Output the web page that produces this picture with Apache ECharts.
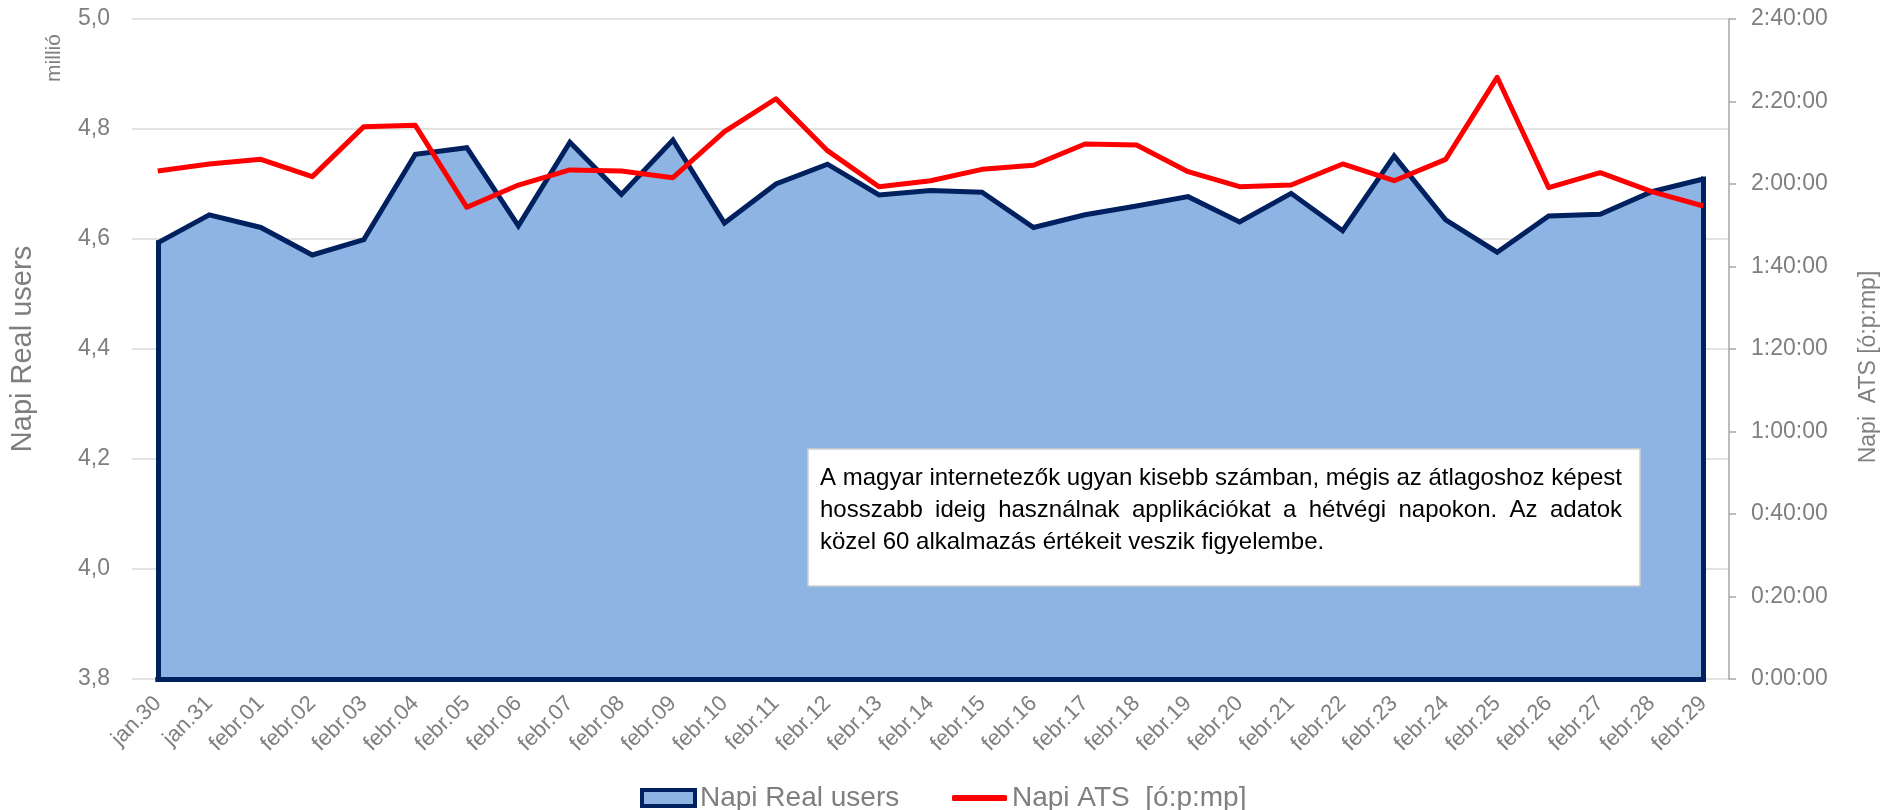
<!DOCTYPE html>
<html>
<head>
<meta charset="utf-8">
<script src="https://cdn.jsdelivr.net/npm/echarts@6/dist/echarts.min.js"></script>
<style>
html,body{margin:0;padding:0;background:#fff;}
#chart{width:1891px;height:810px;}
</style>
</head>
<body>
<div id="chart"></div>
<script>
// ---- data ----
const categories = ['jan.30','jan.31','febr.01','febr.02','febr.03','febr.04','febr.05','febr.06','febr.07','febr.08','febr.09','febr.10','febr.11','febr.12','febr.13','febr.14','febr.15','febr.16','febr.17','febr.18','febr.19','febr.20','febr.21','febr.22','febr.23','febr.24','febr.25','febr.26','febr.27','febr.28','febr.29'];
// Napi Real users (millió)
const realUsers = [4.593,4.644,4.621,4.571,4.599,4.754,4.766,4.624,4.776,4.681,4.780,4.629,4.700,4.736,4.680,4.688,4.685,4.621,4.644,4.660,4.677,4.631,4.683,4.615,4.751,4.635,4.576,4.642,4.645,4.686,4.709];
// Napi ATS (seconds)
const atsSeconds = [7389,7491,7559,7307,8034,8053,6861,7185,7404,7389,7292,7961,8440,7685,7161,7248,7413,7472,7782,7767,7379,7161,7185,7491,7248,7559,8752,7146,7365,7088,6880];
const seriesNames = ['Napi Real users', 'Napi ATS  [ó:p:mp]'];
const leftAxisName = 'Napi Real users';
const rightAxisName = 'Napi  ATS [ó:p:mp]';
const unitLabel = 'millió';
const noteLines = [
  'A magyar internetezők ugyan kisebb számban, mégis az átlagoshoz képest',
  'hosszabb ideig használnak applikációkat a hétvégi napokon. Az adatok',
  'közel 60 alkalmazás értékeit veszik figyelembe.'
];

const FONT = '"Liberation Sans", Arial, sans-serif';
const GRAY = '#7f7f7f';

function fmtTime(s) {
  const h = Math.floor(s / 3600);
  const m = Math.floor((s % 3600) / 60);
  const sec = Math.round(s % 60);
  return h + ':' + String(m).padStart(2, '0') + ':' + String(sec).padStart(2, '0');
}

// justified note text, built as graphic text elements
const box = {x: 808, y: 449, w: 832, h: 137, padL: 12, padR: 18, lineY: [478, 510, 542], fontSize: 24};
const ctx = document.createElement('canvas').getContext('2d');
ctx.font = box.fontSize + 'px ' + FONT;
const noteEls = [];
const innerW = box.w - box.padL - box.padR;
noteLines.forEach((line, li) => {
  const y = box.lineY[li];
  const x0 = box.x + box.padL;
  if (li === noteLines.length - 1) {
    noteEls.push({type: 'text', x: x0, y: y, z: 101,
      style: {text: line, font: box.fontSize + 'px ' + FONT, fill: '#000', textVerticalAlign: 'middle', textAlign: 'left'}});
    return;
  }
  const words = line.split(' ');
  const widths = words.map(w => ctx.measureText(w).width);
  const total = widths.reduce((a, b) => a + b, 0);
  const gap = (innerW - total) / (words.length - 1);
  let x = x0;
  words.forEach((w, i) => {
    noteEls.push({type: 'text', x: x, y: y, z: 101,
      style: {text: w, font: box.fontSize + 'px ' + FONT, fill: '#000', textVerticalAlign: 'middle', textAlign: 'left'}});
    x += widths[i] + gap;
  });
});

const chart = echarts.init(document.getElementById('chart'), null, {renderer: 'canvas'});
const last = categories.length - 1;
const option = {
  animation: false,
  backgroundColor: '#fff',
  textStyle: {fontFamily: FONT},
  grid: {left: 132, right: 162, top: 19, bottom: 131, containLabel: false},
  xAxis: {
    type: 'category',
    data: categories,
    boundaryGap: true,
    axisLine: {show: false},
    axisTick: {show: false},
    axisLabel: {interval: 0, rotate: 45, color: GRAY, fontSize: 22, fontFamily: FONT, margin: 21}
  },
  yAxis: [
    {
      type: 'value', min: 3.8, max: 5.0, interval: 0.2,
      name: leftAxisName, nameLocation: 'middle', nameRotate: 90, nameGap: 95,
      nameTextStyle: {color: GRAY, fontSize: 29, fontFamily: FONT},
      axisLine: {show: false}, axisTick: {show: false},
      axisLabel: {color: GRAY, fontSize: 23, fontFamily: FONT, margin: 22,
        formatter: v => v.toFixed(1).replace('.', ',')},
      splitLine: {show: true, lineStyle: {color: '#d9d9d9', width: 1.5}}
    },
    {
      type: 'value', min: 0, max: 9600, interval: 1200, position: 'right',
      axisLine: {show: true, lineStyle: {color: '#a6a6a6', width: 1.5}},
      axisTick: {show: true, length: 7, inside: false, lineStyle: {color: '#a6a6a6', width: 1.5}},
      axisLabel: {color: GRAY, fontSize: 23, fontFamily: FONT, margin: 22, formatter: v => fmtTime(v)},
      splitLine: {show: false}
    }
  ],
  legend: [
    {
      data: [{name: seriesNames[0], icon: 'rect', itemStyle: {color: '#8eb4e3', borderColor: '#002060', borderWidth: 4}}],
      left: 635, top: 778, itemWidth: 53, itemHeight: 16,
      textStyle: {color: GRAY, fontSize: 28, fontFamily: FONT, lineHeight: 30},
      selectedMode: false
    },
    {
      data: [{name: seriesNames[1], icon: 'roundRect', itemStyle: {color: '#ff0000'}}],
      left: 947, top: 778, itemWidth: 55, itemHeight: 6,
      textStyle: {color: GRAY, fontSize: 28, fontFamily: FONT, lineHeight: 30},
      selectedMode: false
    }
  ],
  series: [
    {
      name: seriesNames[0], type: 'line', yAxisIndex: 0, data: realUsers,
      symbol: 'none', z: 2,
      lineStyle: {color: '#002060', width: 5, join: 'miter'},
      itemStyle: {color: '#002060'},
      areaStyle: {color: '#8eb4e3', opacity: 1, origin: 'start'},
      markLine: {
        silent: true, symbol: 'none', label: {show: false},
        lineStyle: {color: '#002060', width: 5, type: 'solid', cap: 'square'},
        emphasis: {disabled: true},
        data: [
          [{coord: [categories[0], 3.8]}, {coord: [categories[0], realUsers[0]]}],
          [{coord: [categories[last], 3.8]}, {coord: [categories[last], realUsers[last]]}],
          [{coord: [categories[0], 3.8]}, {coord: [categories[last], 3.8]}]
        ]
      }
    },
    {
      name: seriesNames[1], type: 'line', yAxisIndex: 1, data: atsSeconds,
      symbol: 'none', z: 5,
      lineStyle: {color: '#ff0000', width: 5, join: 'round'},
      itemStyle: {color: '#ff0000'}
    }
  ],
  graphic: [
    {type: 'text', x: 54, y: 58, rotation: Math.PI / 2, z: 100,
      style: {text: unitLabel, font: '21px ' + FONT, fill: GRAY, textAlign: 'center', textVerticalAlign: 'middle'}},
    {type: 'text', x: 1869, y: 367, rotation: Math.PI / 2, z: 100,
      style: {text: rightAxisName, font: '23px ' + FONT, fill: GRAY, textAlign: 'center', textVerticalAlign: 'middle'}},
    {type: 'rect', shape: {x: box.x, y: box.y, width: box.w, height: box.h}, z: 100,
      style: {fill: '#fff', stroke: '#d0d0d0', lineWidth: 1.5}}
  ].concat(noteEls)
};
chart.setOption(option);
</script>
</body>
</html>
